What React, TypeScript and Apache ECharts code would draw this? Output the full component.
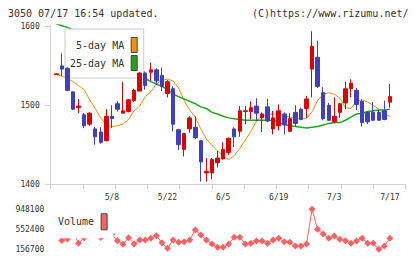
import { useEffect, useRef } from "react";
import * as echarts from "echarts";

// Trading days shown on the chart (2025)
const dates = [
  "4/21", "4/22", "4/23", "4/24", "4/25", "4/28", "4/30", "5/1", "5/2", "5/7",
  "5/8", "5/9", "5/12", "5/13", "5/14", "5/15", "5/16", "5/19", "5/20", "5/21",
  "5/22", "5/23", "5/26", "5/27", "5/28", "5/29", "5/30", "6/2", "6/3", "6/4",
  "6/5", "6/6", "6/9", "6/10", "6/11", "6/12", "6/13", "6/16", "6/17", "6/18",
  "6/19", "6/20", "6/23", "6/24", "6/25", "6/26", "6/27", "6/30", "7/1", "7/2",
  "7/3", "7/4", "7/7", "7/8", "7/9", "7/10", "7/11", "7/14", "7/15", "7/16",
  "7/17",
];

const opens = [
  1539, 1550, 1547, 1517, 1497, 1488, 1476, 1470, 1466, 1455,
  1486, 1502, 1490, 1492, 1506, 1518, 1541, 1542, 1545, 1538,
  1515, 1521, 1469, 1444, 1470, 1472, 1455, 1414, 1414, 1427,
  1432, 1440, 1470, 1467, 1492, 1492, 1499, 1484, 1498, 1470,
  1474, 1489, 1467, 1491, 1495, 1496, 1546, 1561, 1516, 1500,
  1479, 1491, 1503, 1521, 1519, 1505, 1491, 1491, 1491, 1493,
  1504,
];
const closes = [
  1540, 1546, 1519, 1495, 1499, 1474, 1490, 1460, 1453, 1486,
  1483, 1495, 1493, 1507, 1519, 1541, 1525, 1545, 1531, 1524,
  1530, 1476, 1450, 1464, 1484, 1459, 1428, 1416, 1431, 1433,
  1444, 1458, 1460, 1493, 1493, 1497, 1490, 1489, 1480, 1484,
  1493, 1475, 1483, 1477, 1482, 1508, 1575, 1524, 1483, 1481,
  1486, 1502, 1521, 1528, 1501, 1478, 1479, 1481, 1481, 1482,
  1511,
];
const lows = [
  1539, 1537, 1518, 1494, 1490, 1471, 1474, 1450, 1451, 1454,
  1471, 1492, 1490, 1491, 1504, 1518, 1520, 1531, 1526, 1518,
  1510, 1467, 1443, 1435, 1465, 1457, 1403, 1403, 1406, 1421,
  1431, 1437, 1447, 1460, 1476, 1482, 1480, 1466, 1479, 1463,
  1468, 1463, 1466, 1473, 1481, 1484, 1510, 1522, 1481, 1480,
  1477, 1484, 1495, 1510, 1494, 1473, 1476, 1480, 1481, 1481,
  1497,
];
const highs = [
  1540, 1566, 1548, 1518, 1508, 1490, 1491, 1472, 1472, 1495,
  1500, 1505, 1530, 1508, 1521, 1542, 1543, 1554, 1547, 1548,
  1532, 1524, 1470, 1465, 1486, 1486, 1455, 1433, 1433, 1442,
  1453, 1459, 1472, 1499, 1499, 1505, 1509, 1491, 1508, 1493,
  1501, 1491, 1490, 1500, 1497, 1512, 1594, 1582, 1523, 1503,
  1510, 1502, 1530, 1533, 1522, 1507, 1492, 1504, 1494, 1506,
  1527,
];

const ma5 = [
  1539, 1537, 1534, 1530, 1525, 1520, 1507, 1496, 1484, 1475,
  1473, 1474, 1476, 1482, 1493, 1499, 1511, 1517, 1527, 1532,
  1533, 1531, 1522, 1506, 1494, 1485, 1470, 1457, 1449, 1442,
  1435, 1431, 1436, 1445, 1456, 1467, 1480, 1487, 1488, 1489,
  1488, 1487, 1485, 1483, 1483, 1483, 1492, 1506, 1514, 1516,
  1514, 1509, 1497, 1496, 1505, 1507, 1504, 1500, 1495, 1488,
  1486,
];
const ma25 = [
  1603.5, 1601, 1599, 1596, 1592, 1588, 1584, 1579, 1574, 1569,
  1564, 1559, 1554, 1549, 1544, 1539, 1534, 1530, 1527, 1524,
  1520, 1514, 1511, 1508, 1505, 1502, 1498, 1496, 1491, 1489,
  1486, 1484, 1483, 1482, 1481, 1481, 1481, 1481, 1481, 1481,
  1478, 1476, 1474, 1473, 1472, 1471, 1472, 1473, 1475, 1477,
  1478, 1478, 1481, 1485, 1489, 1490, 1492, 1493, 1494, 1494,
  1495,
];

const volumes = [
  479200, 330800, 360500, 499000, 275400, 386200, 459400, 479200, 390200, 439600,
  449500, 326900, 255600, 386200, 261600, 340700, 340700, 374300, 425800, 287300,
  176500, 340700, 295200, 307100, 340700, 538600, 439600, 340700, 261600, 196300,
  196300, 261600, 394100, 394100, 261600, 275400, 320900, 320900, 275400, 340700,
  374300, 307100, 295200, 222000, 222000, 261600, 948100, 552400, 459400, 374300,
  419800, 354600, 326900, 275400, 320900, 374300, 275400, 275400, 156700, 222000,
  374300,
];

const priceTicks = [1400, 1500, 1600];
const volumeTicks = [156700, 552400, 948100];
const dateLabelIndex = [10, 20, 30, 40, 50, 60];

const MONO = '"DejaVu Sans Mono", "Liberation Mono", monospace';
const UP = "#dd0000";
const DOWN = "#3f3fbf";
const ORANGE = "#f0900c";
const GREEN = "#1aa81a";
const VOL = "#ff6060";
const AXIS = "#d3d3d3";
const TEXT = "#333";

const X_MIN = -1;
const X_MAX = 62.8;
// evenly spaced ticks along the bottom of the price panel
const xTicks = Array.from({ length: 12 }, (_, k) => X_MIN + (k * (X_MAX - X_MIN)) / 11);

const plain = (v: number) => String(Math.round(v));

export default function App() {
  const ref = useRef<HTMLDivElement>(null);

  useEffect(() => {
    if (!ref.current) return;
    const chart = echarts.init(ref.current, undefined, { renderer: "svg" });

    const candles = dates.map((_, i) => [i, opens[i], closes[i], lows[i], highs[i]]);
    const ma5Data = ma5.map((v, i) => [i, v]);
    const ma25Data = ma25.map((v, i) => [i, v]);
    const volData = volumes.map((v, i) => [i, v]);

    chart.setOption({
      animation: false,
      backgroundColor: "#fff",
      textStyle: { fontFamily: MONO },
      grid: [
        { left: 50.7, top: 25, width: 354.8, height: 159 },
        { left: 50.7, top: 209.3, width: 354.8, height: 40 },
      ],
      graphic: [
        {
          type: "text",
          x: 8,
          y: 13,
          style: {
            text: "3050 07/17 16:54 updated.",
            fill: TEXT,
            fontFamily: MONO,
            fontSize: 10,
            align: "left",
            verticalAlign: "middle",
          },
        },
        {
          type: "text",
          x: 408.5,
          y: 13,
          style: {
            text: "(C)https://www.rizumu.net/",
            fill: TEXT,
            fontFamily: MONO,
            fontSize: 10,
            align: "right",
            verticalAlign: "middle",
          },
        },
      ],
      legend: [
        {
          data: [
            { name: "5-day MA", icon: "rect", itemStyle: { color: ORANGE, borderColor: "#444", borderWidth: 1 } },
            { name: "25-day MA", icon: "rect", itemStyle: { color: GREEN, borderColor: "#444", borderWidth: 1 } },
          ],
          orient: "vertical",
          align: "right",
          left: 65,
          top: 29,
          padding: [8, 6, 7, 5],
          itemGap: 2,
          itemWidth: 6,
          itemHeight: 15,
          backgroundColor: "#fff",
          borderColor: "#ccc",
          borderWidth: 1,
          selectedMode: false,
          textStyle: { fontFamily: MONO, fontSize: 10, color: TEXT, padding: [0, 2, 0, 0] },
        },
        {
          data: [{ name: "Volume", icon: "rect", itemStyle: { color: VOL, borderColor: "#444", borderWidth: 1 } }],
          orient: "vertical",
          align: "right",
          left: 53,
          top: 205.3,
          padding: [8, 6, 8, 5],
          itemWidth: 6,
          itemHeight: 16,
          backgroundColor: "#fff",
          borderWidth: 0,
          selectedMode: false,
          textStyle: { fontFamily: MONO, fontSize: 10, color: TEXT, padding: [0, 2, 0, 0] },
        },
      ],
      xAxis: [
        {
          type: "value",
          gridIndex: 0,
          min: X_MIN,
          max: X_MAX,
          axisLine: { show: true, onZero: false, lineStyle: { color: AXIS, width: 1 } },
          axisTick: { show: true, customValues: xTicks, length: 5, lineStyle: { color: AXIS } },
          axisLabel: {
            customValues: dateLabelIndex,
            formatter: (v: number) => dates[Math.round(v)] ?? "",
            fontFamily: MONO,
            fontSize: 8,
            color: TEXT,
            margin: 9,
          },
          splitLine: { show: false },
        },
        {
          type: "value",
          gridIndex: 1,
          min: X_MIN,
          max: X_MAX,
          show: false,
          splitLine: { show: false },
        },
      ],
      yAxis: [
        {
          type: "value",
          gridIndex: 0,
          min: 1400,
          max: 1602,
          axisLine: { show: true, onZero: false, lineStyle: { color: AXIS, width: 1 } },
          axisTick: { show: true, customValues: priceTicks, length: 6, lineStyle: { color: AXIS } },
          axisLabel: {
            customValues: priceTicks,
            formatter: plain,
            fontFamily: MONO,
            fontSize: 8,
            color: TEXT,
            margin: 11,
          },
          splitLine: { show: false },
        },
        {
          type: "value",
          gridIndex: 1,
          min: 156700,
          max: 948100,
          axisLine: { show: false, onZero: false },
          axisTick: { show: false },
          axisLabel: {
            customValues: volumeTicks,
            formatter: plain,
            fontFamily: MONO,
            fontSize: 8,
            color: TEXT,
            margin: 6.4,
          },
          splitLine: { show: false },
        },
      ],
      series: [
        {
          name: "5-day MA",
          type: "line",
          xAxisIndex: 0,
          yAxisIndex: 0,
          data: ma5Data,
          showSymbol: false,
          lineStyle: { color: ORANGE, width: 1 },
          itemStyle: { color: ORANGE },
          z: 2,
        },
        {
          name: "25-day MA",
          type: "line",
          xAxisIndex: 0,
          yAxisIndex: 0,
          data: ma25Data,
          showSymbol: false,
          lineStyle: { color: GREEN, width: 1.5 },
          itemStyle: { color: GREEN },
          z: 2,
        },
        {
          name: "Price",
          type: "candlestick",
          xAxisIndex: 0,
          yAxisIndex: 0,
          data: candles,
          barWidth: 4,
          itemStyle: {
            color: UP,
            color0: DOWN,
            borderColor: UP,
            borderColor0: DOWN,
            borderWidth: 1,
          },
          z: 5,
        },
        {
          name: "Volume",
          type: "line",
          xAxisIndex: 1,
          yAxisIndex: 1,
          data: volData,
          symbol: "diamond",
          symbolSize: 7,
          clip: false,
          lineStyle: { color: VOL, width: 1 },
          itemStyle: { color: VOL },
          z: 2,
        },
      ],
    });

    return () => chart.dispose();
  }, []);

  return (
    <div
      ref={ref}
      style={{ position: "absolute", left: 0, top: 0, width: 420, height: 259, background: "#fff" }}
    />
  );
}
